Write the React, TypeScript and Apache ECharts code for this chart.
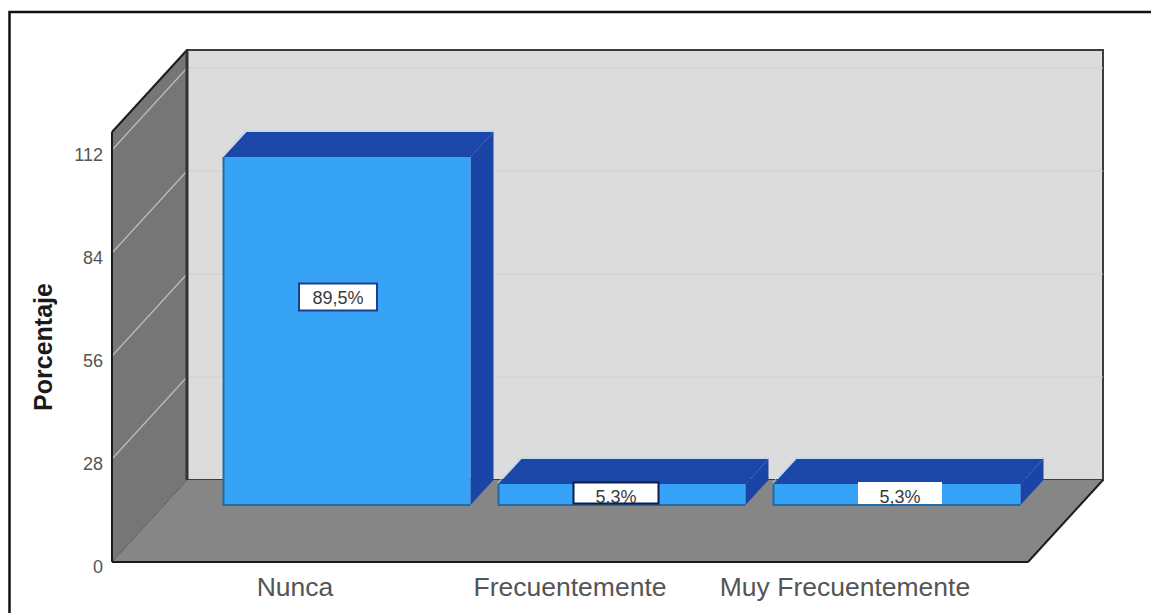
import React, { useEffect, useRef } from "react";
import * as echarts from "echarts";

const categories = ["Nunca", "Frecuentemente", "Muy Frecuentemente"];
const barValues = [94.6, 5.7, 5.7];
const barLabels = ["89,5%", "5,3%", "5,3%"];
const yTicks = [28, 56, 84, 112];
const axisMax = 116.9;

const FONT = "'Liberation Sans', Arial, sans-serif";
const WALL_DX = 75;
const WALL_DY = -82;
const BAR_DX = 52;
const BAR_DY = -57;
const TOP_DX = 23;
const TOP_DY = -25;
const AXIS_X = 112;
const FLOOR_RIGHT = 1028;

const labelBoxes = [
  { dx: -9, cy: 297, w: 78, h: 27, border: "#1c3f8c" },
  { dx: -6, cy: 493, w: 85, h: 21, border: "#101c48" },
  { dx: 3, cy: 493, w: 82, h: 20, border: "#ffffff" },
];

function renderWalls(_params: any, api: any) {
  const y0 = api.coord([0, 0])[1];
  const yTop = api.coord([0, axisMax])[1];
  const bl = AXIS_X + WALL_DX;
  const br = FLOOR_RIGHT + WALL_DX;
  const children: any[] = [
    {
      type: "rect",
      shape: { x: bl, y: yTop + WALL_DY, width: br - bl, height: y0 - yTop },
      style: { fill: "#dcdcdc", stroke: "#3c3c3c", lineWidth: 2 },
    },
    {
      type: "polygon",
      shape: {
        points: [
          [AXIS_X, y0],
          [AXIS_X, yTop],
          [bl, yTop + WALL_DY],
          [bl, y0 + WALL_DY],
        ],
      },
      style: { fill: "#767676" },
    },
    {
      type: "polygon",
      shape: {
        points: [
          [AXIS_X, y0],
          [bl, y0 + WALL_DY],
          [br, y0 + WALL_DY],
          [FLOOR_RIGHT, y0],
        ],
      },
      style: { fill: "#868686" },
    },
  ];
  yTicks.forEach((t) => {
    const y = api.coord([0, t])[1];
    children.push({
      type: "line",
      shape: { x1: AXIS_X, y1: y, x2: bl, y2: y + WALL_DY },
      style: { stroke: "#bdbdbd", lineWidth: 1.2 },
    });
    children.push({
      type: "line",
      shape: { x1: bl, y1: y + WALL_DY, x2: br, y2: y + WALL_DY },
      style: { stroke: "#d0d0d0", lineWidth: 1 },
    });
  });
  const edge = (x1: number, y1: number, x2: number, y2: number, stroke = "#1c1c1c", lineWidth = 2) =>
    children.push({ type: "line", shape: { x1, y1, x2, y2 }, style: { stroke, lineWidth } });
  edge(AXIS_X, y0, AXIS_X, yTop);
  edge(AXIS_X, yTop, bl, yTop + WALL_DY);
  edge(bl, yTop + WALL_DY, bl, y0 + WALL_DY, "#333333", 3);
  edge(AXIS_X, y0, bl, y0 + WALL_DY, "#5c5c5c", 1);
  edge(AXIS_X, y0, FLOOR_RIGHT, y0);
  edge(FLOOR_RIGHT, y0, br, y0 + WALL_DY);
  return { type: "group", children };
}

function renderBars(params: any, api: any) {
  const i = api.value(0);
  const base = api.coord([i, 0]);
  const top = api.coord([i, api.value(1)]);
  const w = api.size([1, 0])[0] * 0.898;
  const x0 = base[0] + BAR_DX - w / 2;
  const x1 = x0 + w;
  const yb = base[1] + BAR_DY;
  const yt = top[1] + BAR_DY;
  const box = labelBoxes[params.dataIndex];
  const cx = base[0] + BAR_DX + box.dx;
  return {
    type: "group",
    children: [
      {
        type: "polygon",
        shape: { points: [[x0, yt], [x0 + TOP_DX, yt + TOP_DY], [x1 + TOP_DX, yt + TOP_DY], [x1, yt]] },
        style: { fill: "#1a47a8" },
      },
      {
        type: "polygon",
        shape: { points: [[x1, yt], [x1 + TOP_DX, yt + TOP_DY], [x1 + TOP_DX, yb + TOP_DY], [x1, yb]] },
        style: { fill: "#1a44a6" },
      },
      {
        type: "polyline",
        shape: { points: [[x0 - 1, yt - 1], [x0 + TOP_DX - 1, yt + TOP_DY - 1], [x1 + TOP_DX + 1, yt + TOP_DY - 1]] },
        style: { stroke: "#aed6f6", lineWidth: 1, fill: "none" },
      },
      {
        type: "rect",
        shape: { x: x0, y: yt, width: w, height: yb - yt },
        style: { fill: "#36a3f7" },
      },
      {
        type: "polyline",
        shape: { points: [[x0, yt], [x0, yb], [x1, yb]] },
        style: { stroke: "#1f6ca6", lineWidth: 2, fill: "none" },
      },
      {
        type: "rect",
        shape: { x: cx - box.w / 2, y: box.cy - box.h / 2, width: box.w, height: box.h },
        style: { fill: "#ffffff", stroke: box.border, lineWidth: 2 },
      },
      {
        type: "text",
        style: {
          text: barLabels[params.dataIndex],
          x: cx,
          y: box.cy + (params.dataIndex === 0 ? 1 : 4),
          align: "center",
          verticalAlign: "middle",
          fontFamily: FONT,
          fontSize: 18,
          fill: "#3a3a3a",
        },
      },
    ],
  };
}

export default function App() {
  const ref = useRef<HTMLDivElement>(null);
  useEffect(() => {
    const chart = echarts.init(ref.current!, null, { renderer: "svg" });
    chart.setOption({
      animation: false,
      backgroundColor: "#ffffff",
      grid: { left: 157.5, top: 132, width: 825, height: 430, containLabel: false },
      xAxis: {
        type: "category",
        data: categories,
        axisLine: { show: false },
        axisTick: { show: false },
        splitLine: { show: false },
        axisLabel: { fontFamily: FONT, fontSize: 26.5, color: "#555555", margin: 11, interval: 0 },
      },
      yAxis: {
        type: "value",
        min: 0,
        max: axisMax,
        interval: 28,
        offset: 45.5,
        name: "Porcentaje",
        nameLocation: "middle",
        nameRotate: 90,
        nameGap: 57,
        nameTextStyle: { fontFamily: FONT, fontSize: 25, fontWeight: "bold", color: "#1a1a1a" },
        axisLine: { show: false },
        axisTick: { show: false },
        splitLine: { show: false },
        axisLabel: {
          fontFamily: FONT,
          fontSize: 18,
          color: "#555555",
          margin: 9,
          verticalAlign: "top",
          lineHeight: 10,
          showMaxLabel: false,
        },
      },
      graphic: [
        {
          type: "polyline",
          shape: { points: [[1151, 12], [9.5, 12], [9.5, 613]] },
          style: { stroke: "#111111", lineWidth: 2.5, fill: "none" },
          silent: true,
        },
      ],
      series: [
        {
          type: "custom",
          name: "walls",
          renderItem: renderWalls,
          data: [[0, 0]],
          encode: { x: 0, y: 1 },
          z: 1,
          silent: true,
        },
        {
          type: "custom",
          name: "Porcentaje",
          renderItem: renderBars,
          data: barValues.map((v, i) => [i, v]),
          encode: { x: 0, y: 1 },
          z: 2,
          silent: true,
        },
      ],
    });
    return () => chart.dispose();
  }, []);
  return <div ref={ref} style={{ position: "fixed", left: 0, top: 0, width: 1151, height: 613 }} />;
}
